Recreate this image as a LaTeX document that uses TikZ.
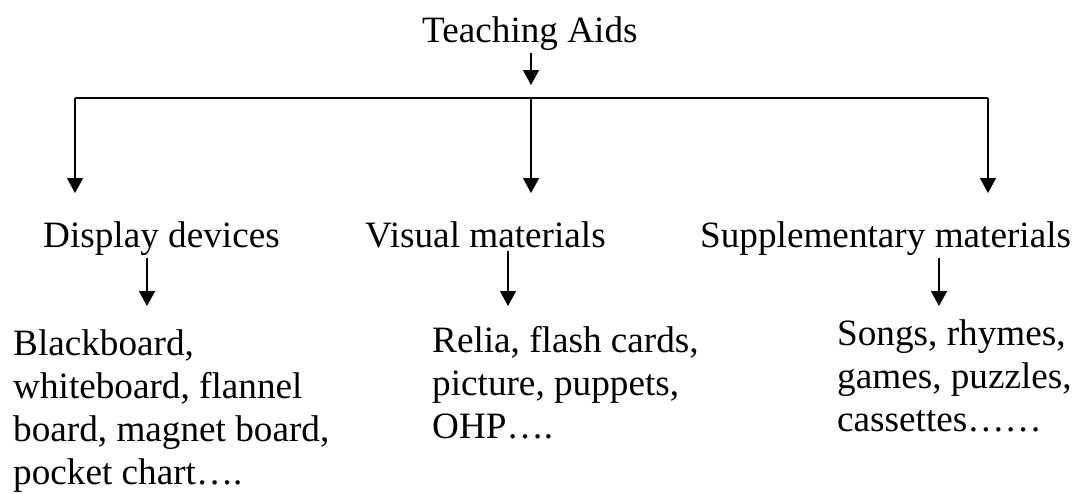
\documentclass[tikz,border=0pt]{standalone}
\usepackage{fontspec}
\setmainfont{Liberation Serif}
\usetikzlibrary{arrows.meta}
\begin{document}
\begin{tikzpicture}[x=1pt,y=-1pt,
  lbl/.style={inner sep=0pt, anchor=base west, align=left, font=\fontsize{37.2}{43}\selectfont},
  conn/.style={line width=1.4pt},
  arr/.style={conn, -{Triangle[length=15pt,width=16pt]}}]
\useasboundingbox (0,0) rectangle (1082,493);
% top
\node[lbl] (root) at (422,42) {Teaching Aids};
\coordinate (rtip) at (531,85);
\coordinate (hl) at (75,98);
\coordinate (hm) at (531,98);
\coordinate (hr) at (988,98);
\coordinate (c1) at (75,193);
\coordinate (c2) at (531,193);
\coordinate (c3) at (988,193);
% categories
\node[lbl] (d1) at (43,247) {Display devices};
\node[lbl] (d2) at (365,247) {Visual materials};
\node[lbl] (d3) at (700,247) {Supplementary materials};
% leaves (anchored at the baseline of their last line)
\node[lbl] (i1) at (13,484) {Blackboard,\\whiteboard, flannel\\board, magnet board,\\pocket chart….};
\node[lbl] (i2) at (432,438) {Relia, flash cards,\\picture, puppets,\\OHP….};
\node[lbl] (i3) at (837,431) {Songs, rhymes,\\games, puzzles,\\cassettes……};
\coordinate (t1) at (147,306);
\coordinate (t2) at (508,306);
\coordinate (t3) at (939,306);
% connectors
\draw[arr] ([yshift=-3pt]root.south -| rtip) -- (rtip);
\draw[conn] (hl) -- (hr);
\draw[arr] (hl) -- (c1);
\draw[arr] (hm) -- (c2);
\draw[arr] (hr) -- (c3);
\draw[arr] ([yshift=-3pt]d1.south -| t1) -- (t1);
\draw[arr] ([yshift=-3pt]d2.south -| t2) -- (t2);
\draw[arr] ([yshift=-3pt]d3.south -| t3) -- (t3);
\end{tikzpicture}
\end{document}
